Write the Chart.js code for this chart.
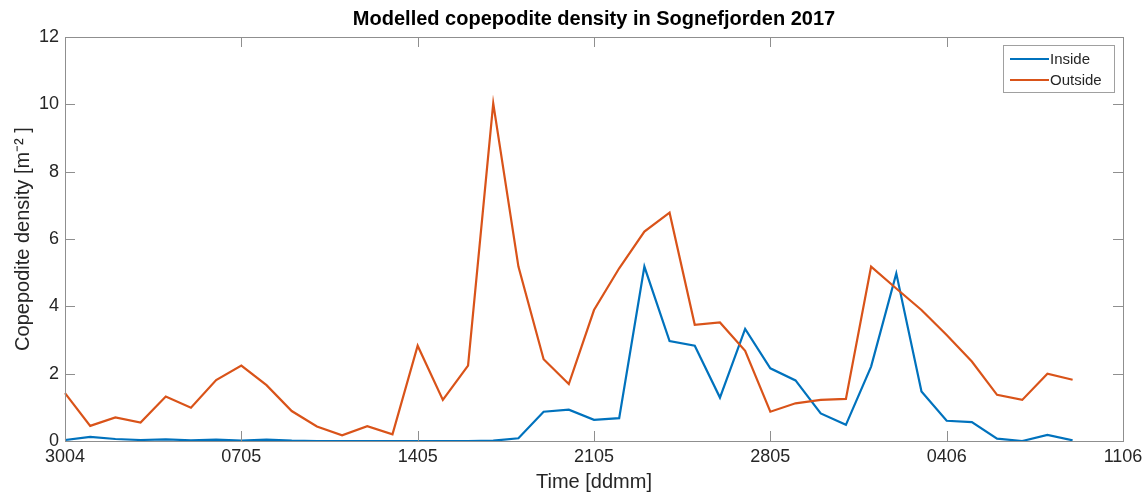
<!DOCTYPE html>
<html>
<head>
<meta charset="utf-8">
<title>Modelled copepodite density in Sognefjorden 2017</title>
<script src="https://cdn.jsdelivr.net/npm/chart.js@4/dist/chart.umd.min.js"></script>
<style>
  html, body { margin: 0; padding: 0; background: #fff; }
  #wrap { width: 1148px; height: 494px; }
</style>
</head>
<body>
<div id="wrap"><canvas id="chart-density" width="1148" height="494"></canvas></div>
<script>
// days (ddmm), 30 April - 11 June 2017
var dates = ['3004','0105','0205','0305','0405','0505','0605','0705','0805','0905','1005','1105','1205','1305',
  '1405','1505','1605','1705','1805','1905','2005','2105','2205','2305','2405','2505','2605','2705',
  '2805','2905','3005','3105','0106','0206','0306','0406','0506','0606','0706','0806','0906','1006','1106'];

var xTickLabels = ['3004','0705','1405','2105','2805','0406','1106'];
var yTickValues = [0, 2, 4, 6, 8, 10, 12];

// copepodite density [m^-2], one value per day
var inside = [0.03, 0.12, 0.06, 0.03, 0.05, 0.02, 0.04, 0.01, 0.04, 0.01, 0.0, 0.0, 0.0, 0.0,
  0.0, 0.0, 0.0, 0.01, 0.08, 0.87, 0.93, 0.63, 0.68, 5.18, 2.97, 2.83, 1.29, 3.33,
  2.16, 1.8, 0.82, 0.48, 2.21, 4.98, 1.47, 0.6, 0.56, 0.07, 0.0, 0.18, 0.02];
var outside = [1.42, 0.45, 0.7, 0.55, 1.32, 0.99, 1.81, 2.24, 1.66, 0.89, 0.43, 0.17, 0.44, 0.2,
  2.83, 1.22, 2.24, 10.03, 5.18, 2.43, 1.69, 3.89, 5.13, 6.22, 6.78, 3.45, 3.52, 2.68,
  0.87, 1.12, 1.22, 1.25, 5.18, 4.53, 3.89, 3.15, 2.36, 1.37, 1.22, 2.0, 1.82];

var FONT = '"Liberation Sans", Arial, Helvetica, sans-serif';
var AXIS = '#8f8f8f';
var TXT = '#262626';

// matlab style box, inward ticks, title and legend
var matlabAxes = {
  id: 'matlabAxes',
  afterDraw: function(chart) {
    var ctx = chart.ctx;
    var a = chart.chartArea;
    var xs = chart.scales.x, ys = chart.scales.y;
    var tl = 10;
    ctx.save();
    ctx.strokeStyle = AXIS;
    ctx.lineWidth = 1;
    ctx.strokeRect(a.left + 0.5, a.top + 0.5, a.right - a.left, a.bottom - a.top);
    ctx.beginPath();
    xTickLabels.forEach(function(l) {
      var px = Math.round(xs.getPixelForValue(dates.indexOf(l))) + 0.5;
      ctx.moveTo(px, a.bottom); ctx.lineTo(px, a.bottom - tl);
      ctx.moveTo(px, a.top); ctx.lineTo(px, a.top + tl);
    });
    yTickValues.forEach(function(v) {
      var py = Math.round(ys.getPixelForValue(v)) + 0.5;
      ctx.moveTo(a.left, py); ctx.lineTo(a.left + tl, py);
      ctx.moveTo(a.right, py); ctx.lineTo(a.right - tl, py);
    });
    ctx.stroke();

    // title
    ctx.fillStyle = '#000';
    ctx.font = 'bold 20px ' + FONT;
    ctx.textAlign = 'center';
    ctx.textBaseline = 'middle';
    ctx.fillText('Modelled copepodite density in Sognefjorden 2017', (a.left + a.right) / 2, 19);

    // legend
    var lx = 1003, ly = 45, lw = 111, lh = 47;
    ctx.fillStyle = '#fff';
    ctx.fillRect(lx, ly, lw, lh);
    ctx.strokeStyle = '#a0a0a0';
    ctx.strokeRect(lx + 0.5, ly + 0.5, lw, lh);
    ctx.font = '15px ' + FONT;
    ctx.textAlign = 'left';
    chart.data.datasets.forEach(function(ds, i) {
      var yy = ly + 14 + i * 21;
      ctx.strokeStyle = ds.borderColor;
      ctx.lineWidth = 2;
      ctx.beginPath();
      ctx.moveTo(lx + 7, yy); ctx.lineTo(lx + 46, yy);
      ctx.stroke();
      ctx.fillStyle = TXT;
      ctx.fillText(ds.label, lx + 47, yy + 1);
    });
    ctx.restore();
  }
};

var chart;
function initChart() {
  var ctx = document.getElementById('chart-density').getContext('2d');
  chart = new Chart(ctx, {
    type: 'line',
    data: {
      labels: dates,
      datasets: [{
        label: 'Inside',
        data: inside,
        borderColor: '#0072BD',
        borderWidth: 2.2,
        pointRadius: 0,
        tension: 0,
        order: 1
      }, {
        label: 'Outside',
        data: outside,
        borderColor: '#D95319',
        borderWidth: 2.2,
        pointRadius: 0,
        tension: 0,
        order: 0
      }]
    },
    options: {
      responsive: false,
      animation: false,
      devicePixelRatio: 1,
      layout: { padding: { left: 0, right: 25, top: 37, bottom: 0 } },
      plugins: {
        legend: { display: false },
        tooltip: { enabled: false }
      },
      scales: {
        x: {
          type: 'category',
          offset: false,
          grid: { display: false, drawTicks: false },
          border: { display: false },
          ticks: {
            autoSkip: false,
            maxRotation: 0,
            padding: 5,
            color: TXT,
            font: { family: FONT, size: 18 },
            callback: function(val, idx) {
              var l = dates[idx];
              return xTickLabels.indexOf(l) >= 0 ? l : '';
            }
          },
          title: {
            display: true,
            text: 'Time [ddmm]',
            color: TXT,
            font: { family: FONT, size: 20, lineHeight: 1.2 },
            padding: { top: 0, bottom: 0 }
          },
          afterFit: function(scale) { scale.height = 53; }
        },
        y: {
          min: 0,
          max: 12,
          grid: { display: false, drawTicks: false },
          border: { display: false },
          ticks: {
            stepSize: 2,
            padding: 6,
            color: TXT,
            font: { family: FONT, size: 18 }
          },
          title: {
            display: true,
            text: 'Copepodite density [m\u207B\u00B2 ]',
            color: TXT,
            font: { family: FONT, size: 20, lineHeight: 1.2 },
            padding: { top: 11, bottom: 0 }
          },
          afterFit: function(scale) { scale.width = 65; }
        }
      }
    },
    plugins: [matlabAxes]
  });
}

initChart();
</script>
</body>
</html>
